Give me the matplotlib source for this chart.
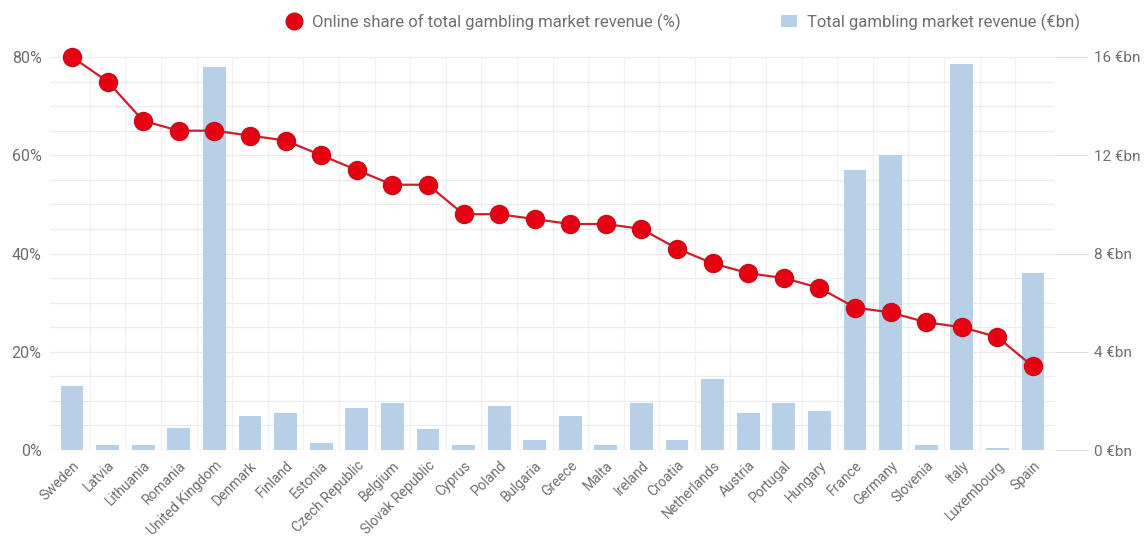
import matplotlib
matplotlib.use("Agg")
import matplotlib.pyplot as plt
from matplotlib.lines import Line2D
from matplotlib.patches import Patch
from matplotlib.ticker import MultipleLocator, FuncFormatter

plt.rcParams['font.family'] = ['Roboto', 'DejaVu Sans']

countries = ["Sweden", "Latvia", "Lithuania", "Romania", "United Kingdom", "Denmark",
             "Finland", "Estonia", "Czech Republic", "Belgium", "Slovak Republic", "Cyprus",
             "Poland", "Bulgaria", "Greece", "Malta", "Ireland", "Croatia", "Netherlands",
             "Austria", "Portugal", "Hungary", "France", "Germany", "Slovenia", "Italy",
             "Luxembourg", "Spain"]
online_share = [80, 75, 67, 65, 65, 64, 63, 60, 57, 54, 54, 48, 48, 47, 46, 46, 45, 41,
                38, 36, 35, 33, 29, 28, 26, 25, 23, 17]
market_revenue = [2.6, 0.2, 0.2, 0.9, 15.6, 1.4, 1.5, 0.3, 1.7, 1.9, 0.85, 0.2, 1.8, 0.4,
                  1.4, 0.2, 1.9, 0.4, 2.9, 1.5, 1.9, 1.6, 11.4, 12.0, 0.2, 15.7, 0.1, 7.2]

pct_ticks = [0, 20, 40, 60, 80]
bn_ticks = [0, 4, 8, 12, 16]

text_col = "#6e6e6e"
grid_col = "#ececec"
bar_col = "#b8d0e7"
dot_col = "#e60012"
line_col = "#cc1f2b"

fig = plt.figure(figsize=(11.45, 5.45), dpi=100)
ax = fig.add_axes([50 / 1145, 95 / 545, 1005 / 1145, 393 / 545])
x = list(range(len(countries)))

# revenue bars on the right-hand scale
ax.bar(x, market_revenue, width=0.64, color=bar_col, zorder=2)
ax.set_ylim(0, 16)
ax.set_xlim(-0.62, len(countries) - 1 + 0.62)
ax.set_xticks(x)
ax.set_xticklabels(countries, rotation=45, ha='right', rotation_mode='anchor',
                   fontsize=10, color=text_col)
ax.tick_params(axis='x', length=0, pad=6)
for k in range(len(countries) - 1):
    ax.axvline(k + 0.5, color="#f1f1f1", linewidth=0.9, zorder=0)
for s in ax.spines.values():
    s.set_visible(False)
ax.axhline(0, color="#e3e3e3", linewidth=1, zorder=1)

# online share line on the left-hand scale
ax2 = ax.twinx()
ax2.set_ylim(0, 80)
ax2.plot(x, online_share, color=line_col, linewidth=1.6, marker='o', markersize=13,
         markerfacecolor=dot_col, markeredgecolor="#c4101c", markeredgewidth=1,
         clip_on=False, zorder=3)
for s in ax2.spines.values():
    s.set_visible(False)

# axis sides: euros on the right, percentages on the left
ax.yaxis.set_ticks_position('right')
ax.yaxis.set_label_position('right')
ax.set_yticks(bn_ticks)
ax.yaxis.set_minor_locator(MultipleLocator(1))
ax.yaxis.set_major_formatter(FuncFormatter(lambda v, p: f"{int(v)} €bn"))
ax.tick_params(axis='y', which='major', length=24, width=0.8, color="#dcdcdc",
               labelsize=11, labelcolor=text_col, pad=4)
ax.tick_params(axis='y', which='minor', length=0)
ax.grid(axis='y', which='both', color=grid_col, linewidth=0.9, zorder=0)

ax2.yaxis.set_ticks_position('left')
ax2.yaxis.set_label_position('left')
ax2.set_yticks(pct_ticks)
ax2.yaxis.set_major_formatter(FuncFormatter(lambda v, p: f"{int(v)}%"))
ax2.tick_params(axis='y', length=0, labelsize=11.5, labelcolor=text_col, pad=6)

handles = [
    Line2D([], [], linestyle='none', marker='o', markersize=12, markerfacecolor=dot_col,
           markeredgecolor="#c4101c", label="Online share of total gambling market revenue (%)"),
    Patch(facecolor=bar_col, edgecolor='none', label="Total gambling market revenue (€bn)"),
]
fig.legend(handles=handles, loc='center', bbox_to_anchor=(683 / 1145, 1 - 22 / 545), ncol=2,
           frameon=False, fontsize=12, labelcolor=text_col, columnspacing=6,
           handlelength=1.0, handletextpad=0.6)

fig.savefig("out.png", dpi=100, facecolor="white")
